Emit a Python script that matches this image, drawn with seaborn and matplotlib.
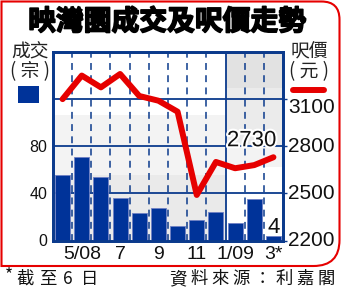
import matplotlib
matplotlib.use('Agg')
import numpy as np
import pandas as pd
import seaborn as sns
import matplotlib.pyplot as plt
import matplotlib.transforms as mtransforms
import matplotlib.patheffects as pe
from matplotlib.path import Path
from matplotlib.patches import PathPatch, Rectangle
from matplotlib.lines import Line2D

# ---- data ----
months = ['4/08', '5/08', '6/08', '7/08', '8/08', '9/08', '10/08', '11/08', '12/08', '1/09', '2/09', '3/09']
deals = [56, 71, 54, 36, 23, 28, 12, 17, 24, 15, 35, 4]
price = [3100, 3250, 3175, 3260, 3120, 3090, 3020, 2490, 2700, 2660, 2680, 2730]
tick_labels = ['', '5/08', '', '7', '', '9', '', '11', '', '1/09', '', '3*']
left_ticks = [0, 40, 80]
grid_levels = [40, 80, 120]
right_ticks = [2200, 2500, 2800, 3100]

title = '映灣園成交及呎價走勢'
left_name = ['成交', '( 宗 )']
right_name = ['呎價', '( 元 )']
foot_left = ['*', '截', '至', '6', '日']
foot_right = list('資料來源：利嘉閣')

NAVY = '#0b3a8c'
BAR = '#003399'
RED = '#e60000'
NARROW = ['Liberation Sans Narrow', 'Liberation Sans', 'DejaVu Sans']
CJK = ['Noto Sans CJK TC', 'DejaVu Sans']

sns.set_theme(style='white')
plt.rcParams['font.family'] = ['Liberation Sans', 'Noto Sans CJK TC', 'DejaVu Sans']

W, H = 342, 291
fig = plt.figure(figsize=(W / 100, H / 100), dpi=100)
fig.patch.set_facecolor('white')

ax = fig.add_axes([53 / W, 1 - 240.5 / H, 230 / W, 188.5 / H])
ax.set_facecolor('white')

df = pd.DataFrame({'month': months, 'deals': deals, 'price': price, 'pos': np.arange(len(months))})

# background bands
def pv(ypix):
    return (240.5 - ypix) * 160 / 188.5

ax.axhspan(pv(175), pv(115), xmin=0, xmax=0.75, color='#f3f3f3', zorder=0, lw=0)
ax.axhspan(0, pv(175), xmin=0, xmax=0.75, color='#eaeaea', zorder=0, lw=0)
ax.axhspan(pv(88), 160, xmin=0.75, xmax=1, color='#e2e2e2', zorder=0, lw=0)
ax.axhspan(pv(146), pv(88), xmin=0.75, xmax=1, color='#ebebeb', zorder=0, lw=0)
ax.axhspan(pv(167), pv(146), xmin=0.75, xmax=1, color='#f3f3f3', zorder=0, lw=0)

sns.barplot(data=df, x='month', y='deals', color=BAR, saturation=1, width=0.78,
            edgecolor='#6f80c4', linewidth=0.6, ax=ax, zorder=3)

for v in grid_levels:
    ax.axhline(v, color=NAVY, lw=1.3, zorder=2)
for k in range(len(months) - 1):
    if k == 8:
        ax.axvline(k + 0.5, color=NAVY, lw=1.3, zorder=2)
    else:
        ax.axvline(k + 0.5, color=NAVY, lw=1.1, ls=(0, (4.5, 3.5)), zorder=2)

ax.set_xlim(-0.5, len(months) - 0.5)
ax.set_ylim(0, 160)
ax.set_xlabel('')
ax.set_ylabel('')
ax.set_yticks(left_ticks)
ax.set_yticklabels([str(t) for t in left_ticks], fontsize=11.5, color='#111111')
ax.tick_params(axis='y', length=0, pad=4)
ax.set_xticks(range(len(months)))
ax.set_xticklabels(tick_labels, fontsize=14, family=NARROW, color='#111111')
ax.tick_params(axis='x', length=0, pad=4)

ax2 = ax.twinx()
sns.lineplot(data=df, x='pos', y='price', color=RED, linewidth=4.3, ax=ax2,
             solid_capstyle='round', solid_joinstyle='round', zorder=5)
ax2.set_ylim(2200, 3400)
ax2.set_xlim(-0.5, len(months) - 0.5)
ax2.set_xlabel('')
ax2.set_ylabel('')
ax2.set_yticks(right_ticks)
ax2.set_yticklabels([])
ax2.tick_params(axis='y', length=3, width=1, color=NAVY, direction='out')

for a in (ax, ax2):
    for s in a.spines.values():
        s.set_color(NAVY)
        s.set_linewidth(2)
        s.set_visible(True)

# right axis labels (3100 sits lower, under the legend line)
blend = mtransforms.blended_transform_factory(ax2.transAxes, ax2.transData)
for v in right_ticks:
    dy = -8 if v == right_ticks[-1] else 0
    tr = blend + mtransforms.ScaledTranslation(5 / 100, dy / 100, fig.dpi_scale_trans)
    ax2.text(1, v, str(v), transform=tr, ha='left', va='center', fontsize=15,
             family=NARROW, color='#111111')

# value labels
ax2.annotate(str(price[-1]), xy=(len(months) - 1, price[-1]), xytext=(3, 11),
             textcoords='offset pixels', ha='right', va='baseline', fontsize=16,
             family=NARROW, color='#111111', zorder=6,
             path_effects=[pe.withStroke(linewidth=3, foreground='white')])
ax.annotate(str(deals[-1]), xy=(len(months) - 1, deals[-1]), xytext=(0, 3),
            textcoords='offset pixels', ha='center', va='baseline', fontsize=16,
            family=NARROW, color='#111111', zorder=6)

# title
fig.text(167 / W, 1 - 22 / H, title, ha='center', va='center', fontsize=20,
         family=CJK, fontweight='heavy', color='#000000',
         path_effects=[pe.withStroke(linewidth=1.2, foreground='black')])

# axis names
for names, xc in ((left_name, 30), (right_name, 309)):
    fig.text(xc / W, 1 - 52 / H, names[0], ha='center', va='center', fontsize=13.5,
             family=CJK, color='#222222')
    fig.text(xc / W, 1 - 72 / H, names[1], ha='center', va='center', fontsize=13.5,
             family=CJK, color='#222222')

# legend keys
fig.patches.append(Rectangle((18, H - 103), 21, 17, transform=None, facecolor=BAR,
                             edgecolor='none', figure=fig))
fig.lines.append(Line2D([293, 324], [H - 90, H - 90], transform=None, color=RED, lw=4.3,
                        solid_capstyle='round', figure=fig))

# footer
xs_left = [8.5, 25.5, 47.5, 67.5, 90]
for ch, x in zip(foot_left, xs_left):
    y = 275 if ch == '*' else 279
    fig.text(x / W, 1 - y / H, ch, ha='center', va='center', fontsize=12.5,
             family=CJK, color='#111111')
for i, ch in enumerate(foot_right):
    x = 177.5 + i * 21.3
    fig.text(x / W, 1 - 279 / H, ch, ha='center', va='center', fontsize=12.5,
             family=CJK, color='#111111')

# red frame with rounded right corners
r1, r2 = 18, 26
xl, xr, yt, yb = 1.5, 339.5, H - 1.5, H - 266
verts = [(xl, yb), (xl, yt), (xr - r1, yt), (xr, yt), (xr, yt - r1),
         (xr, yb + r2), (xr, yb), (xr - r2, yb), (xl, yb)]
codes = [Path.MOVETO, Path.LINETO, Path.LINETO, Path.CURVE3, Path.CURVE3,
         Path.LINETO, Path.CURVE3, Path.CURVE3, Path.CLOSEPOLY]
fig.patches.append(PathPatch(Path(verts, codes), transform=None, facecolor='none',
                             edgecolor=RED, lw=1.5, figure=fig))

fig.savefig('out.png', dpi=100)
